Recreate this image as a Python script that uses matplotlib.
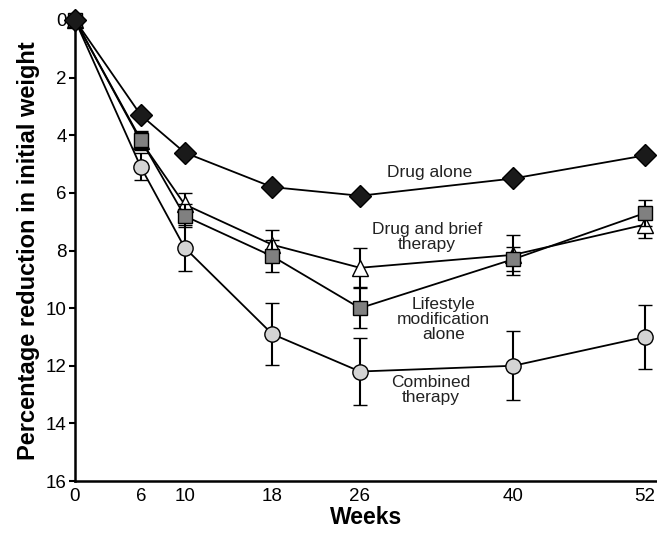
import matplotlib
matplotlib.use("Agg")
import matplotlib.pyplot as plt
import numpy as np

plt.rcParams['font.family'] = ['Liberation Sans', 'DejaVu Sans']

weeks = [0, 6, 10, 18, 26, 40, 52]
xtick_labels = ["0", "6", "10", "18", "26", "40", "52"]
yticks = [0, 2, 4, 6, 8, 10, 12, 14, 16]

drug_alone = [0, 3.3, 4.6, 5.8, 6.1, 5.5, 4.7]

drug_brief = [0, 4.2, 6.4, 7.8, 8.6, 8.15, 7.1]
drug_brief_err = [0, 0.3, 0.4, 0.5, 0.68, 0.69, 0.45]

lifestyle = [0, 4.15, 6.8, 8.2, 10.0, 8.3, 6.7]
lifestyle_err = [0, 0.3, 0.4, 0.55, 0.7, 0.42, 0.45]

combined = [0, 5.1, 7.9, 10.9, 12.2, 12.0, 11.0]
combined_err = [0, 0.47, 0.8, 1.08, 1.17, 1.2, 1.1]

labels = ["Drug alone", "Drug and brief\ntherapy", "Lifestyle\nmodification\nalone", "Combined\ntherapy"]
label_pos = [(32.4, 5.28), (32.1, 7.52), (33.6, 10.4), (32.5, 12.85)]

fig = plt.figure(figsize=(6.57, 5.40), dpi=100)
ax = fig.add_axes([75/657, 59/540, 1 - 75/657, 461/540])

lw = 1.3
common = dict(color='black', lw=lw, elinewidth=1.5, capsize=5, capthick=1.5,
              markeredgecolor='black', markeredgewidth=1.0, clip_on=False)

ax.errorbar(weeks, combined, yerr=combined_err, marker='o', ms=11,
            markerfacecolor='#d4d4d4', zorder=3, **common)
ax.errorbar(weeks, drug_brief, yerr=drug_brief_err, marker='^', ms=11,
            markerfacecolor='white', zorder=4, **common)
ax.errorbar(weeks, lifestyle, yerr=lifestyle_err, marker='s', ms=10,
            markerfacecolor='#808080', zorder=5, **common)
ax.plot(weeks, drug_alone, marker='D', ms=11, color='black', lw=lw,
        markerfacecolor='#1a1a1a', markeredgecolor='black', zorder=6, clip_on=False)

for txt, (x, y) in zip(labels, label_pos):
    ax.text(x, y, txt, ha='center', va='center', fontsize=12.5, linespacing=1.0,
            color='#222222', zorder=7)

ax.set_xlim(0, 53.1)
ax.set_ylim(16, 0)
ax.set_xticks(weeks)
ax.set_xticklabels(xtick_labels, fontsize=13.5)
ax.set_yticks(yticks)
ax.set_yticklabels([str(v) for v in yticks], fontsize=13.5)
ax.tick_params(axis='x', length=0, pad=5)
ax.tick_params(axis='y', length=4, width=1.5, direction='out', pad=2)

for s in ['top', 'right']:
    ax.spines[s].set_visible(False)
for s in ['left', 'bottom']:
    ax.spines[s].set_linewidth(1.8)

ax.set_xlabel("Weeks", fontsize=16.5, fontweight='bold', labelpad=1)
ax.set_ylabel("Percentage reduction in initial weight", fontsize=17, fontweight='bold', labelpad=4)

fig.savefig("out.png", dpi=100)
